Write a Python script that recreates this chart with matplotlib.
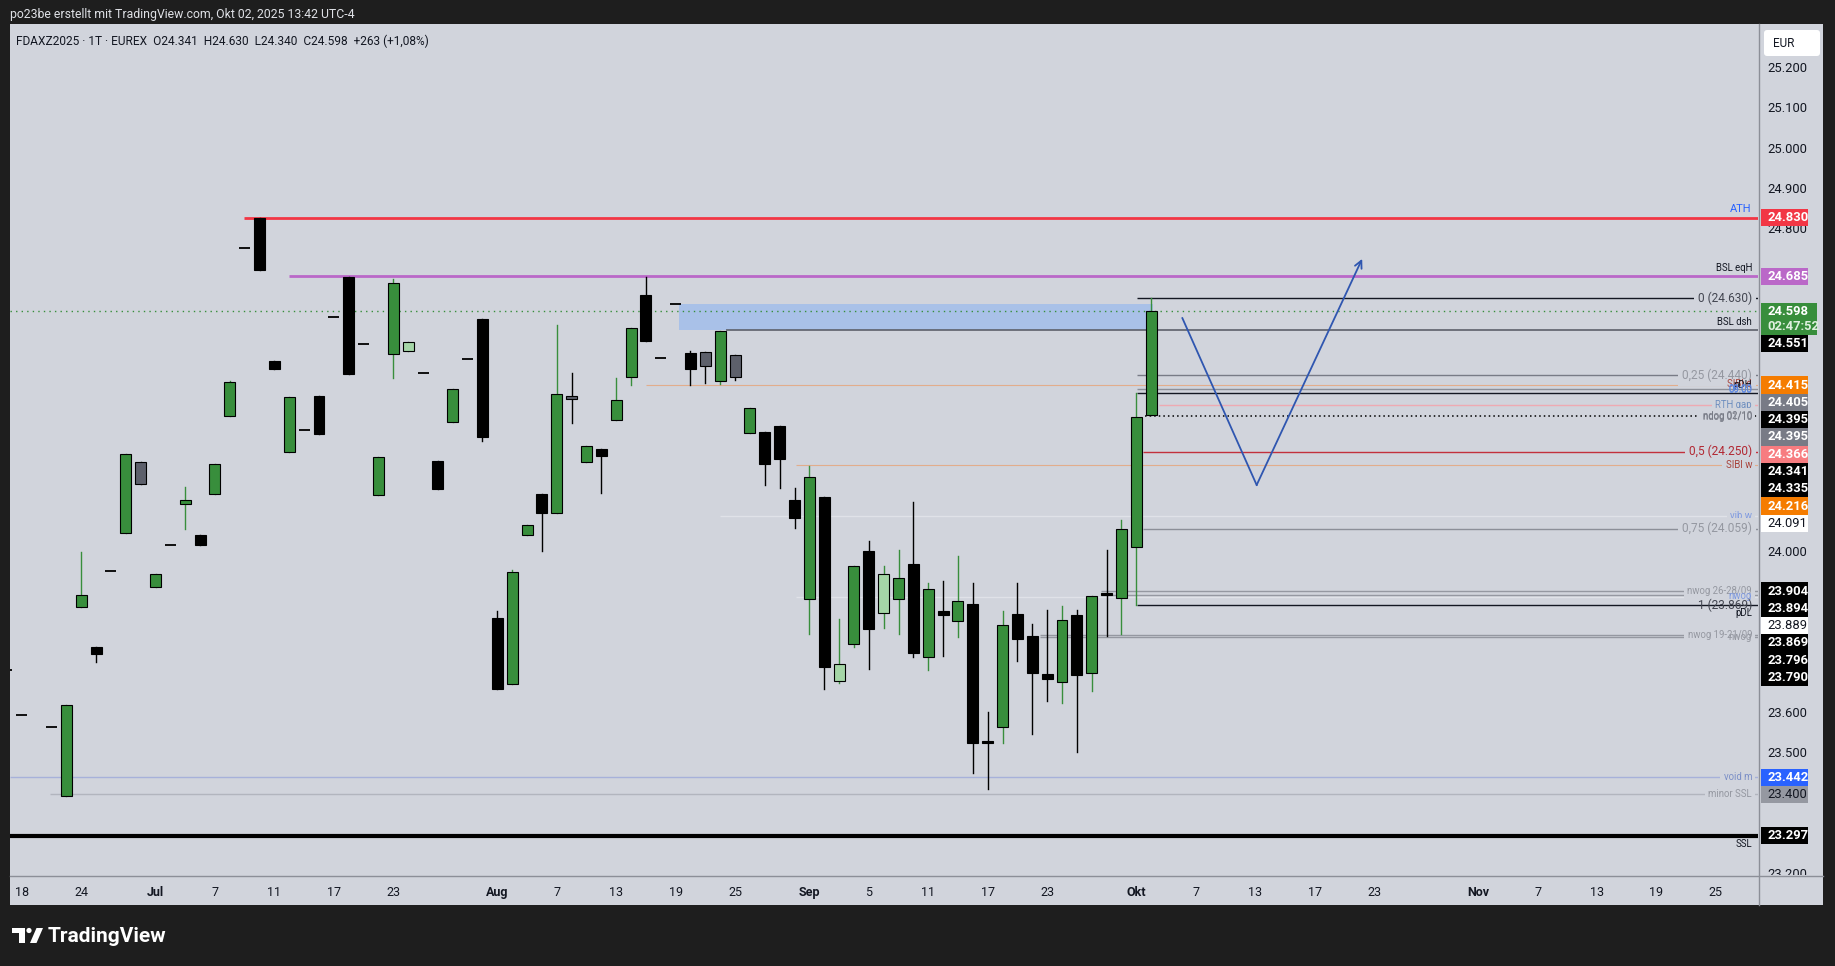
import numpy as np
import matplotlib.pyplot as plt
import matplotlib.transforms as mtrans
from matplotlib.patches import Rectangle, FancyBboxPatch, Polygon, Circle

plt.rcParams['font.family'] = ['Roboto', 'DejaVu Sans']
NARROW = ['Liberation Sans Narrow', 'Roboto', 'DejaVu Sans']

W, H = 1835, 966
BG = '#d1d4dc'
INK = '#131722'

# daily FDAX Z2025 bars, x = trading days counted from 18 Jun 2025
start_day = '2025-06-18'
bars = [-1, 0, 2, 3, 4, 5, 6, 7, 8, 9, 10, 11, 12, 13, 14, 15, 16, 17, 18, 19,
        20, 21, 22, 23, 24, 25, 26, 27, 28, 29, 30, 31, 32, 33, 34, 35, 36, 37, 38, 39,
        40, 41, 42, 43, 44, 45, 46, 47, 48, 49, 50, 51, 52, 53, 54, 55, 56, 57, 58, 59,
        60, 61, 62, 63, 64, 65, 66, 67, 68, 69, 70, 71, 72, 73, 74, 75, 76]
opens = [23708, 23597, 23567, 23396, 23864, 23764, 23954, 24048, 24223, 23914,
         24017, 24120, 24042, 24145, 24339, 24754, 24830, 24474, 24249, 24303,
         24388, 24583, 24684, 24516, 24142, 24493, 24500, 24446, 24226, 24324,
         24479, 24579, 23836, 23673, 24043, 24144, 24098, 24388, 24225, 24256,
         24329, 24436, 24638, 24481, 24615, 24494, 24496, 24425, 24489, 24297,
         24299, 24313, 24130, 23885, 24137, 23681, 23773, 24003, 23850, 23885,
         23970, 23740, 23854, 23830, 23873, 23527, 23566, 23846, 23792, 23699,
         23678, 23844, 23700, 23900, 23887, 24014, 24341]
highs = [23708, 23597, 23567, 23620, 24000, 23764, 23954, 24245, 24223, 23945,
         24017, 24161, 24042, 24219, 24424, 24754, 24830, 24474, 24385, 24303,
         24388, 24583, 24684, 24516, 24236, 24679, 24521, 24446, 24226, 24405,
         24479, 24579, 23854, 23955, 24069, 24144, 24564, 24445, 24263, 24256,
         24432, 24557, 24684, 24481, 24615, 24499, 24496, 24548, 24489, 24359,
         24299, 24313, 24159, 24214, 24137, 23834, 23966, 24028, 23966, 24005,
         24124, 23925, 23928, 23992, 23923, 23605, 23855, 23923, 23821, 23858,
         23868, 23858, 23891, 24005, 24080, 24395, 24630]
lows = [23708, 23597, 23567, 23396, 23864, 23728, 23954, 24048, 24170, 23914,
        24017, 24057, 24018, 24145, 24339, 24754, 24700, 24455, 24249, 24303,
        24293, 24583, 24442, 24516, 24142, 24432, 24500, 24446, 24156, 24324,
        24479, 24276, 23662, 23673, 24043, 24003, 24098, 24320, 24225, 24147,
        24329, 24414, 24525, 24481, 24615, 24414, 24419, 24418, 24428, 24297,
        24167, 24160, 24061, 23797, 23661, 23677, 23765, 23710, 23812, 23797,
        23740, 23707, 23742, 23790, 23452, 23414, 23527, 23730, 23549, 23632,
        23625, 23504, 23655, 23792, 23797, 23869, 24340]
closes = [23708, 23597, 23567, 23620, 23893, 23748, 23954, 24245, 24170, 23945,
          24017, 24131, 24018, 24219, 24422, 24754, 24700, 24455, 24385, 24303,
          24293, 24583, 24442, 24516, 24236, 24668, 24521, 24446, 24156, 24405,
          24479, 24286, 23662, 23950, 24069, 24098, 24393, 24381, 24263, 24240,
          24377, 24557, 24525, 24481, 24615, 24456, 24463, 24548, 24436, 24359,
          24220, 24232, 24085, 24187, 23715, 23722, 23966, 23809, 23947, 23937,
          23751, 23910, 23845, 23880, 23527, 23527, 23820, 23784, 23700, 23686,
          23831, 23695, 23891, 23894, 24057, 24335, 24598]
# bar colouring used on the chart: g green, lg light green, b black, gr grey, d flat bar
kinds = ['d', 'd', 'd', 'g', 'g', 'b', 'd', 'g', 'gr', 'g',
         'd', 'g', 'b', 'g', 'g', 'd', 'b', 'b', 'g', 'd',
         'b', 'd', 'b', 'd', 'g', 'g', 'lg', 'd', 'b', 'g',
         'd', 'b', 'b', 'g', 'g', 'b', 'g', 'gr', 'g', 'b',
         'g', 'g', 'b', 'd', 'd', 'b', 'gr', 'g', 'gr', 'g',
         'b', 'b', 'b', 'g', 'b', 'lg', 'g', 'b', 'lg', 'g',
         'b', 'g', 'b', 'g', 'b', 'b', 'g', 'b', 'b', 'b',
         'g', 'b', 'g', 'b', 'g', 'g', 'g']

# horizontal levels: price and the bar they start from (-1 = whole chart)
level_names = ['ATH', 'BSL eqH', 'fib0', 'last', 'BSL dsh', 'fib25', 'SIBI d', 'grey',
               'pDH', 'RTH gap', 'ndog', 'fib50', 'SIBI w', 'vib w', 'fib75',
               'nwog a', 'nwog b', 'white', 'pDL', 'nwog c', 'nwog d', 'void m',
               'minor SSL', 'SSL']
level_prices = [24830, 24685, 24630, 24598, 24551, 24440, 24415, 24405,
                24395, 24366, 24338, 24250, 24216, 24091, 24059,
                23904, 23894, 23889, 23869, 23796, 23790, 23442,
                23400, 23297]
level_from = [14.95, 18, 75.05, -1, 47.4, 75.05, 42, 75.05,
              75.05, 76.5, 75.6, 75.45, 52.1, 47, 75.45,
              72.6, 72.6, 52.1, 75.05, 68.5, 68.5, -1,
              1.9, -1]

# imbalance zone
zone_from, zone_to = 44.2, 76.1
zone_low, zone_high = 24551, 24615

# projected path
path_x = [78.1, 83.1, 90.2]
path_y = [24581, 24167, 24728]

# right side level texts
note_texts = ['ATH', 'BSL eqH', '0 (24.630)', 'BSL dsh', '0,25 (24.440)', 'SIBI d', 'pDH',
              '08:00', '09:00', 'RTH gap', 'ndog 02/10', 'ndog 01/10', '0,5 (24.250)',
              'SIBI w', 'vib w', '0,75 (24.059)', 'nwog 26-28/09', 'nwog', '1 (23.869)',
              'pDL', 'nwog 19-21/09', 'nwog', 'void m', 'minor SSL', 'SSL']
note_prices = [24830, 24685, 24630, 24551, 24440, 24418, 24395,
               24404, 24402, 24366, 24338, 24336, 24250,
               24216, 24090, 24059, 23904, 23891, 23869,
               23869, 23796, 23789, 23442, 23400, 23297]

# price scale markers
mark_prices = [24830, 24685, 24598, 24551, 24415, 24405, 24395, 24395, 24366, 24341,
               24335, 24216, 24091, 23904, 23894, 23889, 23869, 23796, 23790,
               23442, 23400, 23297]
countdown = '02:47:52'

tick_dates = ['2025-06-18', '2025-06-24', '2025-07-01', '2025-07-07', '2025-07-11',
              '2025-07-17', '2025-07-23', '2025-08-01', '2025-08-07', '2025-08-13',
              '2025-08-19', '2025-08-25', '2025-09-01', '2025-09-05', '2025-09-11',
              '2025-09-17', '2025-09-23', '2025-10-01', '2025-10-07', '2025-10-13',
              '2025-10-17', '2025-10-23', '2025-11-03', '2025-11-07', '2025-11-13',
              '2025-11-19', '2025-11-25']
tick_labels = ['18', '24', 'Jul', '7', '11', '17', '23', 'Aug', '7', '13', '19', '25',
               'Sep', '5', '11', '17', '23', 'Okt', '7', '13', '17', '23',
               'Nov', '7', '13', '19', '25']
months = {'Jul', 'Aug', 'Sep', 'Okt', 'Nov'}

title = 'po23be erstellt mit TradingView.com, Okt 02, 2025 13:42 UTC-4'
legend = 'FDAXZ2025 · 1T · EUREX  O24.341  H24.630  L24.340  C24.598  +263 (+1,08%)'

# ---------------------------------------------------------------- layout
X0, SP = 21.8, 14.86           # pixel of bar 0, pixels per bar
PL, PR, PT, PB = 10, 1758, 25, 875
YMIN, YMAX = 23199.5, 25308.2
ppx = (PB - PT) / (YMAX - YMIN)

fig = plt.figure(figsize=(W / 100, H / 100), dpi=100)
fig.patch.set_facecolor('#1e1e1e')

bg = fig.add_axes([0, 0, 1, 1], zorder=-5)
bg.set_xlim(0, W)
bg.set_ylim(H, 0)
bg.axis('off')
bg.add_patch(Rectangle((10, 24), 1813, 881, fc=BG, ec='none'))
bg.plot([10, 1823], [875.5, 875.5], color='#8c8f98', lw=1)
bg.plot([1758.5, 1758.5], [24, 905], color='#8c8f98', lw=1)
bg.add_patch(FancyBboxPatch((1764, 30), 56, 26, boxstyle='round,pad=0,rounding_size=3',
                            fc='white', ec='none'))
bg.text(1773, 43.5, 'EUR', fontsize=8.5, color=INK, va='center', family=NARROW)
bg.text(10, 14.5, title, fontsize=8.8, color='#dfe1e6', va='center')
bg.text(16, 41, legend, fontsize=8.6, color=INK, va='center')

# TradingView logo
bg.add_patch(Rectangle((12, 928), 13, 5, fc='white', ec='none'))
bg.add_patch(Rectangle((19, 928), 6, 15, fc='white', ec='none'))
bg.add_patch(Circle((29, 930.5), 2.6, fc='white', ec='none'))
bg.add_patch(Polygon([(30, 943), (36.5, 928), (43, 928), (36.5, 943)], fc='white', ec='none'))
bg.text(48, 936.5, 'TradingView', fontsize=15, color='white', weight='bold', va='center')

ax = fig.add_axes([PL / W, 1 - PB / H, (PR - PL) / W, (PB - PT) / H])
ax.patch.set_visible(False)
ax.axis('off')
ax.set_xlim((PL - X0) / SP, (PR - X0) / SP)
ax.set_ylim(YMIN, YMAX)

# levels
lv_style = {
    'ATH': ('#f23645', 2.0, '-'), 'BSL eqH': ('#ba68c8', 2.0, '-'),
    'fib0': (INK, 1.0, '-'), 'last': ('#388e3c', 1.0, (0, (1, 3))),
    'BSL dsh': ('#5d606b', 1.2, '-'), 'fib25': ('#787b86', 1.0, '-'),
    'SIBI d': ('#e2ad8c', 0.8, '-'), 'grey': ('#8c8f98', 1.0, '-'),
    'pDH': (INK, 1.0, '-'), 'RTH gap': ('#eeaab2', 1.0, '-'),
    'ndog': ('black', 1.1, (0, (1, 2))), 'fib50': ('#c2303c', 1.0, '-'),
    'SIBI w': ('#e2ad8c', 0.8, '-'), 'vib w': ('#e0e2e8', 1.0, '-'),
    'fib75': ('#8c8f98', 1.0, '-'), 'nwog a': ('#9598a1', 1.0, '-'),
    'nwog b': ('#9598a1', 1.0, '-'), 'white': ('#e0e2e8', 1.0, '-'),
    'pDL': (INK, 1.0, '-'), 'nwog c': ('#9598a1', 1.0, '-'),
    'nwog d': ('#9598a1', 1.0, '-'), 'void m': ('#a7b1da', 1.0, '-'),
    'minor SSL': ('#b2b5be', 1.0, '-'), 'SSL': ('black', 3.0, '-'),
}
xright = (PR - X0) / SP
for name, p, x0 in zip(level_names, level_prices, level_from):
    col, lw, ls = lv_style[name]
    xa = (PL - X0) / SP if x0 < 0 else x0
    ax.plot([xa, xright], [p, p], color=col, lw=lw, ls=ls, zorder=2,
            solid_capstyle='butt')

ax.add_patch(Rectangle((zone_from, zone_low), zone_to - zone_from, zone_high - zone_low,
                       fc='#a9c1e8', ec='none', zorder=1))

# candles
body_w = 0.74
min_h = 1.6 / ppx
fill = {'g': '#388e3c', 'lg': '#a5d6a7', 'b': 'black', 'gr': '#5d606b'}
wick = {'g': '#388e3c', 'lg': '#388e3c', 'b': 'black', 'gr': 'black'}
for i, op, hi, lo, cl, k in zip(bars, opens, highs, lows, closes, kinds):
    if k == 'd':
        ax.plot([i - body_w / 2, i + body_w / 2], [cl, cl], color='black', lw=1.3, zorder=4,
                solid_capstyle='butt')
        continue
    ax.plot([i, i], [lo, hi], color=wick[k], lw=1.0, zorder=3)
    bot = min(op, cl)
    hgt = max(abs(cl - op), min_h)
    ax.add_patch(Rectangle((i - body_w / 2, bot), body_w, hgt, fc=fill[k], ec='black',
                           lw=0.8, zorder=4))

# projected path
ax.plot(path_x[:2], path_y[:2], color='#2f56b0', lw=1.3, zorder=5)
ax.annotate('', xy=(path_x[2], path_y[2]), xytext=(path_x[1], path_y[1]),
            arrowprops=dict(arrowstyle='->', color='#2f56b0', lw=1.3, mutation_scale=13,
                            shrinkA=0, shrinkB=0), zorder=5)

# level notes at the right edge
note_style = {
    'ATH': ('#2962ff', 8, 'above', False),
    'BSL eqH': (INK, 6.9, 'above', False),
    '0 (24.630)': ('#434651', 8.6, 'mid', True),
    'BSL dsh': (INK, 6.9, 'above', False),
    '0,25 (24.440)': ('#9598a1', 8.6, 'mid', True),
    'SIBI d': ('#a8443c', 6.9, 'mid', False),
    'pDH': (INK, 6.9, 'above', False),
    '08:00': ('#5b86e0', 6.9, 'mid', False),
    '09:00': ('#5b86e0', 6.9, 'mid', False),
    'RTH gap': ('#6f8fbf', 6.9, 'mid', True),
    'ndog 02/10': ('#787b86', 6.9, 'mid', True),
    'ndog 01/10': ('#787b86', 6.9, 'mid', False),
    '0,5 (24.250)': ('#b22833', 8.6, 'mid', True),
    'SIBI w': ('#a8443c', 6.9, 'mid', True),
    'vib w': ('#7f9ae0', 6.9, 'mid', True),
    '0,75 (24.059)': ('#9598a1', 8.6, 'mid', True),
    'nwog 26-28/09': ('#9598a1', 6.9, 'mid', True),
    'nwog': ('#7f9ae0', 6.9, 'mid', False),
    '1 (23.869)': ('#434651', 8.6, 'mid', False),
    'pDL': (INK, 6.9, 'below', False),
    'nwog 19-21/09': ('#9598a1', 6.9, 'mid', True),
    'void m': ('#7b8fc7', 6.9, 'mid', True),
    'minor SSL': ('#9598a1', 6.9, 'mid', True),
    'SSL': (INK, 6.9, 'below', False),
}
blend = mtrans.blended_transform_factory(ax.transAxes, ax.transData)
xr = (1752 - PL) / (PR - PL)
seen_nwog = 0
for txt, p in zip(note_texts, note_prices):
    col, fs, pos, mask = note_style[txt]
    if txt == 'nwog':
        if seen_nwog == 1:
            col = '#9598a1'
        seen_nwog += 1
    dy = {'above': 8.5, 'mid': 0, 'below': -8}[pos]
    tr = mtrans.offset_copy(blend, fig=fig, x=0, y=dy, units='dots')
    kw = {}
    if mask:
        kw['bbox'] = dict(boxstyle='square,pad=0.35', fc=BG, ec='none')
    ax.text(xr, p, txt, transform=tr, ha='right', va='center', fontsize=fs, color=col,
            zorder=6, **kw)

# ---------------------------------------------------------------- price scale
pax = fig.add_axes([PR / W, 1 - PB / H, 65 / W, (PB - PT) / H])
pax.patch.set_visible(False)
pax.axis('off')
pax.set_xlim(0, 1)
pax.set_ylim(YMIN, YMAX)
ptr = mtrans.blended_transform_factory(pax.transAxes, pax.transData)

mark_fc = ['#f23645', '#ba68c8', '#388e3c', 'black', '#f57c00', '#787b86', 'black',
           '#787b86', '#f77c80', 'black', 'black', '#f57c00', 'white', 'black', 'black',
           'white', 'black', 'black', 'black', '#2962ff', '#9598a1', 'black']
mark_tc = ['white'] * len(mark_prices)
for j in (12, 15, 20):
    mark_tc[j] = INK
hp = 17.3 / ppx
extra = 15.0 / ppx
prev_bot = YMAX + 500
centres = []
for j, (p, fc, tc) in enumerate(zip(mark_prices, mark_fc, mark_tc)):
    c = min(p, prev_bot - hp / 2)
    sub = countdown if j == 2 else None
    top = c + hp / 2
    bot = c - hp / 2 - (extra if sub else 0)
    wdt = 0.86 if sub else 0.725
    pax.add_patch(Rectangle((0.046, bot), wdt, top - bot, transform=ptr, fc=fc, ec='none',
                            zorder=3))
    wt = 'bold' if tc == 'white' else 'normal'
    pax.text(0.14, c, f'{p / 1000:.3f}', fontsize=9.4, color=tc, va='center',
             family=NARROW, weight=wt, zorder=4)
    centres.append(c)
    if sub:
        pax.text(0.14, c - extra, sub, fontsize=9.4, color='#dff0df', va='center',
                 family=NARROW, weight='bold', zorder=4)
        centres.append(c - extra)
    prev_bot = bot

# regular scale ticks, only where no marker box covers them
for p in range(23200, 25300, 100):
    if min(abs(p - c) for c in centres) < 0.5 * hp:
        continue
    pax.text(0.14, p, f'{p / 1000:.3f}', fontsize=9.4, color=INK, va='center',
             family=NARROW, zorder=2, clip_on=True)

# ---------------------------------------------------------------- time scale
tax = fig.add_axes([PL / W, 1 - 905 / H, 1813 / W, 30 / H])
tax.patch.set_visible(False)
tax.axis('off')
tax.set_xlim((PL - X0) / SP, (1823 - X0) / SP)
tax.set_ylim(0, 1)
for d, lab in zip(tick_dates, tick_labels):
    xi = np.busday_count(start_day, d)
    tax.text(xi, 0.43, lab, fontsize=9, color=INK, ha='center', va='center', family=NARROW,
             weight='bold' if lab in months else 'normal')

fig.savefig('out.png', dpi=100, facecolor=fig.get_facecolor())
